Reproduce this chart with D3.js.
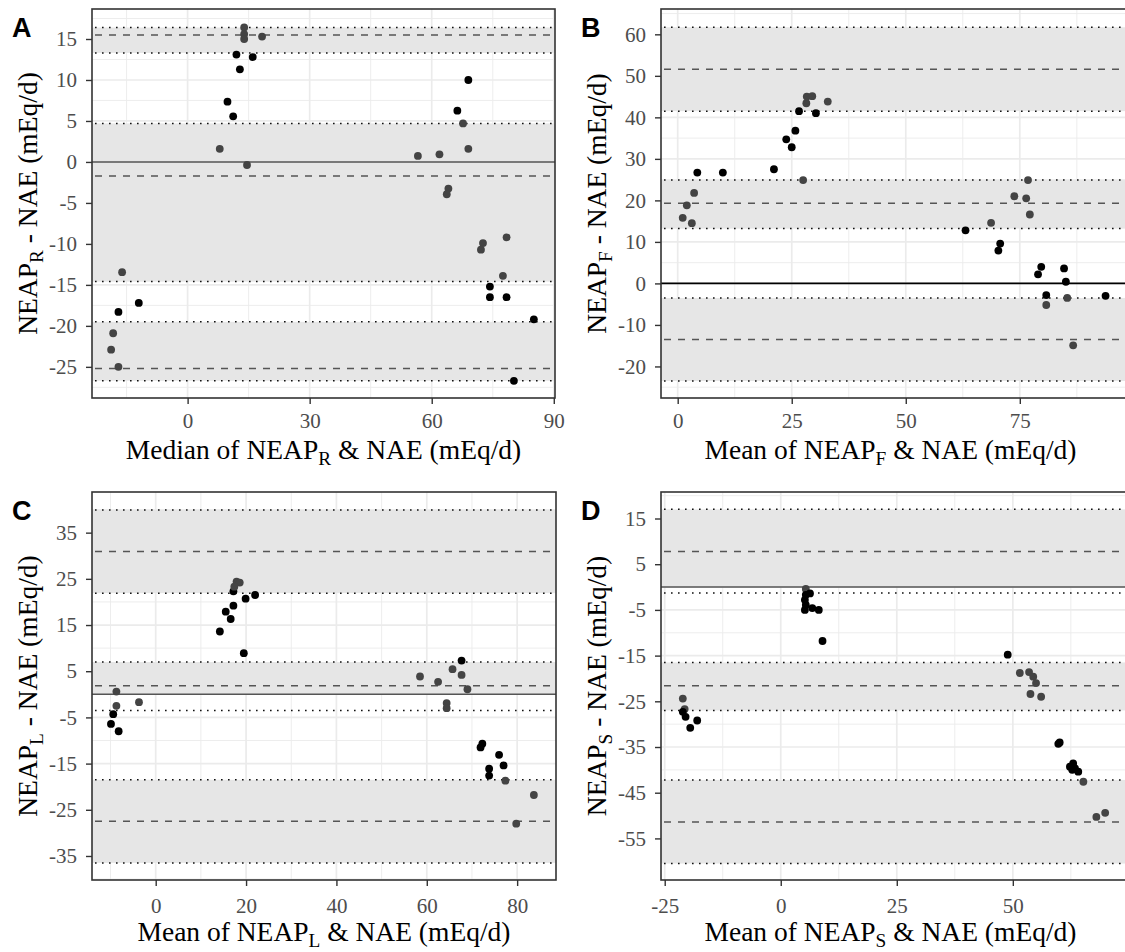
<!DOCTYPE html>
<html>
<head>
<meta charset="utf-8">
<script src="https://cdn.jsdelivr.net/npm/d3@7"></script>
<style>
  html, body { margin: 0; padding: 0; background: #fff; }
  svg { display: block; }
</style>
</head>
<body>
<svg id="chart" width="1125" height="952"></svg>
<script>
// ---- Panel A: NEAP_R vs NAE (median) ----
const aX = [13.9, 13.9, 13.9, 18.3, 12.0, 16.0, 12.85, 9.8, 11.2, 7.9, 14.6, -16.1, -12.0, -17.0, -18.3, -18.8, -17.0,
            69.0, 66.3, 67.7, 69.0, 56.6, 61.9, 64.1, 63.7, 72.6, 72.1, 78.4, 77.5, 74.3, 74.3, 78.4, 85.1, 80.2];
const aY = [16.4, 15.6, 15.0, 15.3, 13.1, 12.8, 11.3, 7.35, 5.57, 1.6, -0.37, -13.45, -17.2, -18.3, -20.9, -22.9, -25.0,
            10.0, 6.26, 4.7, 1.6, 0.73, 0.93, -3.25, -3.94, -9.9, -10.7, -9.2, -13.9, -15.2, -16.5, -16.5, -19.2, -26.7];
const aTone = ["g","g","g","g","k","k","k","k","k","g","g","g","k","k","g","g","g",
               "k","k","g","g","g","g","g","g","g","g","g","g","k","k","k","k","k"];
const aDotted = [16.4, 13.3, 4.7, -14.6, -19.5, -26.7];
const aDashed = [15.5, -1.7, -25.2];
const aBands = [[16.4, 13.3], [4.7, -14.6], [-19.5, -26.7]];
const aXTicks = [0, 30, 60, 90];
const aXMinor = [-15, 15, 45, 75];
const aYTicks = [-25, -20, -15, -10, -5, 0, 5, 10, 15];
const aYMinor = [-27.5, -22.5, -17.5, -12.5, -7.5, -2.5, 2.5, 7.5, 12.5, 17.5];

// ---- Panel B: NEAP_F vs NAE ----
const bX = [1.1, 2.0, 3.1, 3.6, 4.3, 9.9, 21.1, 23.8, 25.0, 25.8, 27.5, 26.6, 28.2, 28.3, 29.5, 30.3, 32.9,
            63.1, 68.7, 70.7, 70.3, 73.8, 76.8, 76.4, 77.2, 79.7, 79.0, 80.8, 80.8, 84.7, 85.1, 85.4, 86.7, 93.8];
const bY = [15.8, 18.8, 14.5, 21.8, 26.7, 26.7, 27.5, 34.7, 32.8, 36.8, 24.9, 41.5, 43.4, 45.0, 45.1, 41.0, 43.8,
            12.8, 14.6, 9.6, 7.9, 21.0, 24.9, 20.5, 16.6, 4.0, 2.2, -2.8, -5.2, 3.6, 0.4, -3.5, -14.9, -3.0];
const bTone = ["g","g","g","g","k","k","k","k","k","k","g","k","g","g","g","k","g",
               "k","g","k","k","g","g","g","g","k","k","k","g","k","k","g","g","k"];
const bDotted = [61.7, 41.5, 24.9, 13.2, -3.5, -23.5];
const bDashed = [51.6, 19.3, -13.5];
const bBands = [[61.7, 41.5], [24.9, 13.2], [-3.5, -23.5]];
const bXTicks = [0, 25, 50, 75];
const bXMinor = [12.5, 37.5, 62.5, 87.5];
const bYTicks = [-20, -10, 0, 10, 20, 30, 40, 50, 60];
const bYMinor = [-25, -15, -5, 5, 15, 25, 35, 45, 55, 65];

// ---- Panel C: NEAP_L vs NAE ----
const cX = [-8.7, -8.7, -9.4, -9.9, -8.2, -3.7, 14.2, 15.5, 16.6, 17.2, 17.2, 17.9, 18.6, 17.4, 19.5, 19.9, 22.0,
            58.5, 62.5, 65.7, 67.7, 67.7, 69.0, 64.4, 64.4, 72.3, 71.9, 76.0, 73.8, 73.8, 77.0, 77.4, 83.7, 79.8];
const cY = [0.6, -2.5, -4.3, -6.4, -8.0, -1.7, 13.6, 17.9, 16.3, 19.2, 22.3, 24.4, 24.2, 23.3, 8.9, 20.7, 21.5,
            3.86, 2.7, 5.45, 7.3, 4.2, 1.1, -1.9, -3.0, -10.7, -11.5, -13.1, -16.1, -17.6, -15.4, -18.7, -21.8, -28.0];
const cTone = ["g","g","k","k","k","g","k","k","k","k","k","g","g","g","k","k","k",
               "g","g","g","k","g","g","g","g","k","k","k","k","k","k","g","g","g"];
const cDotted = [39.9, 21.9, 7.0, -3.5, -18.5, -36.5];
const cDashed = [30.9, 1.84, -27.5];
const cBands = [[39.9, 21.9], [7.0, 0], [-18.5, -36.5]];
const cXTicks = [0, 20, 40, 60, 80];
const cXMinor = [-10, 10, 30, 50, 70];
const cYTicks = [-35, -25, -15, -5, 5, 15, 25, 35];
const cYMinor = [-40, -30, -20, -10, 0, 10, 20, 30, 40];

// ---- Panel D: NEAP_S vs NAE ----
const dX = [5.4, 5.4, 6.3, 5.2, 5.4, 5.2, 6.8, 8.2, 9.0, -21.1, -20.7, -21.1, -20.5, -18.0, -19.5,
            48.9, 51.5, 53.5, 54.4, 55.0, 53.8, 56.1, 60.1, 59.8, 63.0, 62.3, 63.4, 64.1, 62.8, 65.2, 68.0, 69.9];
const dY = [-0.4, -1.7, -1.4, -2.8, -3.9, -5.0, -4.6, -5.0, -11.8, -24.4, -26.7, -27.3, -28.4, -29.2, -30.8,
            -14.8, -18.8, -18.6, -19.6, -21.0, -23.4, -24.0, -34.0, -34.3, -38.6, -39.3, -39.7, -40.4, -40.0, -42.6, -50.3, -49.4];
const dTone = ["g","k","k","k","k","k","k","k","k","g","g","k","k","k","k",
               "k","g","g","g","g","g","g","k","k","k","k","k","k","k","g","g","g"];
const dDotted = [17.0, -1.3, -16.5, -27.0, -42.2, -60.5];
const dDashed = [7.8, -21.6, -51.4];
const dBands = [[17.0, 0], [-16.5, -27.0], [-42.2, -60.5]];
const dXTicks = [-25, 0, 25, 50];
const dXMinor = [-12.5, 12.5, 37.5, 62.5];
const dYTicks = [-55, -45, -35, -25, -15, -5, 5, 15];
const dYMinor = [-60, -50, -40, -30, -20, -10, 0, 10, 20];

// Axis titles (main text, subscript, trailing text)
const panelLetters = ["A", "B", "C", "D"];
const xTitles = [["Median of NEAP", "R", " & NAE (mEq/d)"],
                 ["Mean of NEAP", "F", " & NAE (mEq/d)"],
                 ["Mean of NEAP", "L", " & NAE (mEq/d)"],
                 ["Mean of NEAP", "S", " & NAE (mEq/d)"]];
const yTitles = [["NEAP", "R", " - NAE (mEq/d)"],
                 ["NEAP", "F", " - NAE (mEq/d)"],
                 ["NEAP", "L", " - NAE (mEq/d)"],
                 ["NEAP", "S", " - NAE (mEq/d)"]];

const svg = d3.select("#chart");
const SERIF = "'Liberation Serif', 'Times New Roman', serif";

const panels = [
  { x: aX, y: aY, tone: aTone, dotted: aDotted, dashed: aDashed, bands: aBands,
    xt: aXTicks, xm: aXMinor, yt: aYTicks, ym: aYMinor,
    xd: [-23.5, 90.3], yd: [-28.8, 18.66], box: [92, 9, 555, 398], zero: "#555", lift: 0 },
  { x: bX, y: bY, tone: bTone, dotted: bDotted, dashed: bDashed, bands: bBands,
    xt: bXTicks, xm: bXMinor, yt: bYTicks, ym: bYMinor,
    xd: [-3.66, 98.5], yd: [-27.6, 66.1], box: [661, 9, 1127, 398], zero: "#000", lift: 0 },
  { x: cX, y: cY, tone: cTone, dotted: cDotted, dashed: cDashed, bands: cBands,
    xt: cXTicks, xm: cXMinor, yt: cYTicks, ym: cYMinor,
    xd: [-14.1, 88.6], yd: [-40.2, 43.8], box: [92, 492, 556, 880], zero: "#555", lift: 3 },
  { x: dX, y: dY, tone: dTone, dotted: dDotted, dashed: dDashed, bands: dBands,
    xt: dXTicks, xm: dXMinor, yt: dYTicks, ym: dYMinor,
    xd: [-25.8, 74.6], yd: [-64.1, 20.8], box: [661, 492, 1127, 880], zero: "#555", lift: 3 }
];

function subText(sel, parts, size) {
  sel.append("tspan").text(parts[0]);
  sel.append("tspan").text(parts[1])
    .style("font-size", (size * 0.7) + "px").attr("dy", size * 0.2);
  sel.append("tspan").text(parts[2]).attr("dy", -size * 0.2);
}

panels.forEach((p, i) => {
  const [x0, y0, x1, y1] = p.box;
  const xs = d3.scaleLinear().domain(p.xd).range([x0, x1]);
  const ys = d3.scaleLinear().domain(p.yd).range([y1, y0]);
  const g = svg.append("g");

  const clipId = "clip" + i;
  svg.append("clipPath").attr("id", clipId)
    .append("rect").attr("x", x0).attr("y", y0).attr("width", x1 - x0).attr("height", y1 - y0);
  const plot = g.append("g").attr("clip-path", `url(#${clipId})`);

  plot.append("rect").attr("x", x0).attr("y", y0).attr("width", x1 - x0).attr("height", y1 - y0)
    .attr("fill", "#fff");

  // grid: minor then major
  plot.selectAll(".vmin").data(p.xm).join("line")
    .attr("x1", d => xs(d)).attr("x2", d => xs(d)).attr("y1", y0).attr("y2", y1)
    .attr("stroke", "#EBEBEB").attr("stroke-width", 0.9);
  plot.selectAll(".hmin").data(p.ym).join("line")
    .attr("y1", d => ys(d)).attr("y2", d => ys(d)).attr("x1", x0).attr("x2", x1)
    .attr("stroke", "#EBEBEB").attr("stroke-width", 0.9);
  plot.selectAll(".vmaj").data(p.xt).join("line")
    .attr("x1", d => xs(d)).attr("x2", d => xs(d)).attr("y1", y0).attr("y2", y1)
    .attr("stroke", "#EBEBEB").attr("stroke-width", 1.7);
  plot.selectAll(".hmaj").data(p.yt).join("line")
    .attr("y1", d => ys(d)).attr("y2", d => ys(d)).attr("x1", x0).attr("x2", x1)
    .attr("stroke", "#EBEBEB").attr("stroke-width", 1.7);

  // shaded interval bands
  plot.selectAll(".band").data(p.bands).join("rect")
    .attr("x", x0).attr("width", x1 - x0)
    .attr("y", d => ys(d[0])).attr("height", d => ys(d[1]) - ys(d[0]))
    .attr("fill", "#E6E6E6");

  // reference lines
  plot.selectAll(".dot").data(p.dotted).join("line")
    .attr("x1", x0 + 3).attr("x2", x1 - 3).attr("y1", d => ys(d)).attr("y2", d => ys(d))
    .attr("stroke", "#111").attr("stroke-width", 1.5).attr("stroke-dasharray", "1.6,5.4");
  plot.selectAll(".dash").data(p.dashed).join("line")
    .attr("x1", x0 + 3).attr("x2", x1 - 3).attr("y1", d => ys(d)).attr("y2", d => ys(d))
    .attr("stroke", "#555").attr("stroke-width", 1.5).attr("stroke-dasharray", "7,7");
  plot.append("line")
    .attr("x1", x0).attr("x2", x1).attr("y1", ys(0)).attr("y2", ys(0))
    .attr("stroke", p.zero).attr("stroke-width", 1.6);

  // points
  plot.selectAll(".pt").data(p.x.map((v, k) => [v, p.y[k], p.tone[k]])).join("circle")
    .attr("cx", d => xs(d[0])).attr("cy", d => ys(d[1])).attr("r", 3.9)
    .attr("fill", d => d[2] === "k" ? "#000" : "#444");

  // panel border
  g.append("rect").attr("x", x0).attr("y", y0).attr("width", x1 - x0).attr("height", y1 - y0)
    .attr("fill", "none").attr("stroke", "#333").attr("stroke-width", 1.6);

  // axes
  const fmt = d => String(d);
  const xa = g.append("g").attr("transform", `translate(0,${y1})`)
    .call(d3.axisBottom(xs).tickValues(p.xt).tickFormat(fmt).tickSize(6).tickPadding(9 + p.lift));
  const ya = g.append("g").attr("transform", `translate(${x0},0)`)
    .call(d3.axisLeft(ys).tickValues(p.yt).tickFormat(fmt).tickSize(6).tickPadding(9));
  [xa, ya].forEach(a => {
    a.attr("font-family", null).attr("font-size", null);
    a.select(".domain").remove();
    a.selectAll(".tick line").attr("stroke", "#333").attr("stroke-width", 1.4);
    a.selectAll(".tick text").attr("fill", "#4D4D4D")
      .style("font-family", SERIF).style("font-size", "21px");
  });

  // axis titles
  const cx = (x0 + x1) / 2, cy = (y0 + y1) / 2;
  const xt = g.append("text").attr("x", i % 2 ? (661 + 1120) / 2 : cx).attr("y", y1 + 61)
    .attr("text-anchor", "middle").style("font-family", SERIF).style("font-size", "27.5px")
    .attr("fill", "#000");
  subText(xt, xTitles[i], 27.5);
  const yt = g.append("text")
    .attr("transform", `translate(${x0 - 55},${cy}) rotate(-90)`)
    .attr("text-anchor", "middle").style("font-family", SERIF).style("font-size", "27.5px")
    .attr("fill", "#000");
  subText(yt, yTitles[i], 27.5);

  // panel letter
  g.append("text").attr("x", x0 - 80).attr("y", y0 + 28)
    .style("font-family", "'Liberation Sans', Arial, sans-serif").style("font-weight", "bold")
    .style("font-size", "27px").attr("fill", "#000").text(panelLetters[i]);
});
</script>
</body>
</html>
